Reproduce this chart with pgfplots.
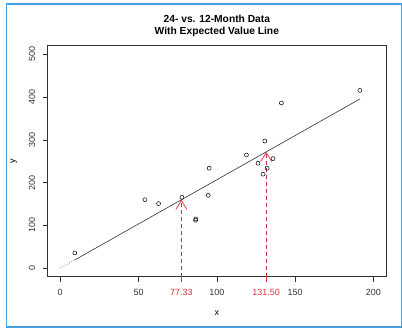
\documentclass[border=0pt]{standalone}
\usepackage{fontspec}
\setmainfont{Liberation Sans}
\usepackage{pgfplots}
\pgfplotsset{compat=1.18}
\usetikzlibrary{arrows.meta}
\definecolor{rred}{RGB}{215,50,60}
\definecolor{bordblue}{RGB}{70,160,225}
\definecolor{axgrey}{RGB}{50,50,50}
\begin{document}
\begin{tikzpicture}
\useasboundingbox (0,0) rectangle (402bp,329bp);
\draw[bordblue, line width=1.2bp] (6.5bp,2bp) -- (6.5bp,325bp) -- (401.5bp,325bp) -- (401.5bp,2bp) -- cycle;
\begin{axis}[
  at={(47.7bp,52.3bp)}, anchor=south west,
  width=338.3bp, height=231bp, scale only axis,
  xmin=-8, xmax=208, ymin=-20, ymax=520,
  axis line style={axgrey, line width=0.8bp},
  tick pos=left, tick align=outside,
  major tick length=5bp,
  every tick/.style={axgrey, line width=0.6bp},
  xtick={0,50,100,150,200},
  ytick={0,100,200,300,400,500},
  extra x ticks={77.33,131.5},
  extra x tick labels={77.33,131.50},
  extra x tick style={grid=none, xticklabel style={text=rred}, major tick style={rred, line width=0.6bp}},
  /pgf/number format/assume math mode=true,
  ticklabel style={font=\fontsize{9}{10}\selectfont, text=black!80},
  xticklabel style={yshift=-4.5bp},
  yticklabel style={rotate=90, anchor=south, yshift=4bp},
  xlabel={x}, ylabel={y},
  every axis x label/.style={at={(axis description cs:0.5,0)}, yshift=-36bp, anchor=center, font=\fontsize{9}{10}\selectfont},
  every axis y label/.style={at={(axis description cs:0,0.5)}, xshift=-34bp, rotate=90, anchor=center, font=\fontsize{9}{10}\selectfont},
  title={24- vs. 12-Month Data\\With Expected Value Line},
  title style={at={(axis description cs:0.5,1)}, yshift=14bp, anchor=center, align=center, font=\bfseries\fontsize{10.3}{12.4}\selectfont},
  clip=false,
]
\addplot[only marks, mark=o, mark size=2bp, black, mark options={line width=0.5bp}] coordinates {
(9.3,35.6) (54.1,160) (62.8,150.9) (77.7,165.6) (86.4,112) (86.6,115)
(94.5,170.2) (95.1,233.7) (118.9,264.6) (126.3,245.3) (129.5,219.7)
(130.6,297.1) (132.1,233.7) (135.9,256.1) (141.2,386.1) (191.3,415.5)
};
\addplot[axgrey, line width=0.6bp, dotted] coordinates {(0,0) (9.3,19.2)};
\addplot[axgrey, line width=0.6bp] coordinates {(9.3,19.2) (191.5,395.8)};
\addplot[rred, line width=0.7bp, dash pattern=on 4bp off 3bp, -{Straight Barb[length=9bp, width=11bp]}] coordinates {(77.33,-20) (77.33,159.8)};
\addplot[rred, line width=0.7bp, dash pattern=on 4bp off 3bp, -{Straight Barb[length=9bp, width=11bp]}] coordinates {(131.5,-20) (131.5,271.8)};
\end{axis}
\end{tikzpicture}
\end{document}
